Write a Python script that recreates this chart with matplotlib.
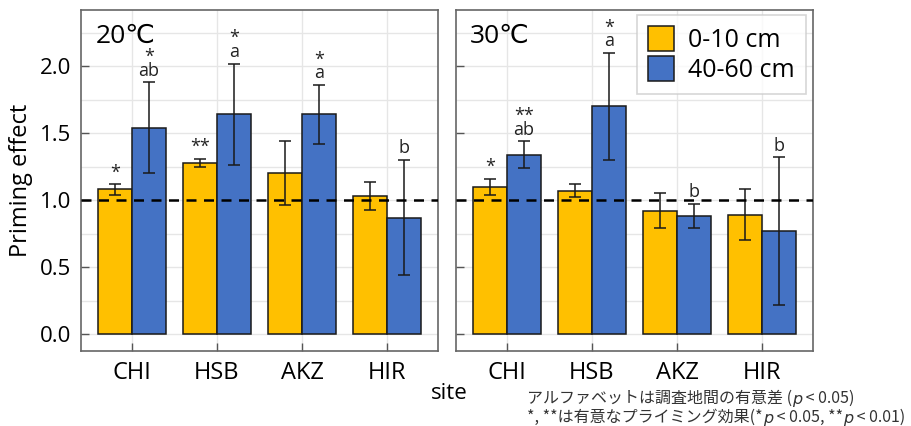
import matplotlib
matplotlib.use("Agg")
import matplotlib.pyplot as plt
import numpy as np

plt.rcParams['font.family'] = ['Open Sans', 'DejaVu Sans']

sites = ['CHI', 'HSB', 'AKZ', 'HIR']
depths = ['0-10 cm', '40-60 cm']
temps = ['20℃', '30℃']

# 20C
top_20 = [1.08, 1.28, 1.20, 1.03]
top_20_err = [0.04, 0.03, 0.24, 0.105]
deep_20 = [1.54, 1.64, 1.64, 0.87]
deep_20_err = [0.34, 0.38, 0.22, 0.43]
top_20_lab = ['*', '**', '', '']
deep_20_lab = ['*\nab', '*\na', '*\na', 'b']

# 30C
top_30 = [1.10, 1.07, 0.92, 0.89]
top_30_err = [0.06, 0.05, 0.13, 0.19]
deep_30 = [1.34, 1.70, 0.88, 0.77]
deep_30_err = [0.10, 0.40, 0.09, 0.55]
top_30_lab = ['*', '', '', '']
deep_30_lab = ['**\nab', '*\na', 'b', 'b']

yellow = '#FFC000'
blue = '#4472C4'

fig = plt.figure(figsize=(9.12, 4.26), dpi=100)
ax1 = fig.add_axes([0.0888, 0.176, 0.3914, 0.8005])
ax2 = fig.add_axes([0.500, 0.176, 0.3914, 0.8005])

panels = [
    (ax1, temps[0], top_20, top_20_err, deep_20, deep_20_err, top_20_lab, deep_20_lab),
    (ax2, temps[1], top_30, top_30_err, deep_30, deep_30_err, top_30_lab, deep_30_lab),
]

x = np.arange(len(sites))
w = 0.4
for ax, t, a, ae, b, be, al, bl in panels:
    ax.set_axisbelow(True)
    ax.bar(x - w / 2, a, w, color=yellow, edgecolor='#1a1a1a', lw=1.1, label=depths[0])
    ax.bar(x + w / 2, b, w, color=blue, edgecolor='#1a1a1a', lw=1.1, label=depths[1])
    ax.errorbar(x - w / 2, a, yerr=ae, fmt='none', ecolor='#1a1a1a', elinewidth=1.1, capsize=4, capthick=1.1)
    ax.errorbar(x + w / 2, b, yerr=be, fmt='none', ecolor='#1a1a1a', elinewidth=1.1, capsize=4, capthick=1.1)
    for i in range(len(sites)):
        if al[i]:
            ax.text(x[i] - w / 2, a[i] + ae[i] + 0.02, al[i], ha='center', va='bottom',
                    fontsize=13, linespacing=0.7, color='#222222')
        if bl[i]:
            ax.text(x[i] + w / 2, b[i] + be[i] + 0.02, bl[i], ha='center', va='bottom',
                    fontsize=13, linespacing=0.7, color='#222222')
    ax.axhline(1.0, color='black', lw=1.8, ls=(0, (4, 3)), zorder=5)
    ax.set_xlim(-0.6, 3.6)
    ax.set_ylim(-0.127, 2.42)
    ax.set_xticks(x)
    ax.set_xticklabels(sites, fontsize=17)
    ax.set_yticks([0, 0.5, 1.0, 1.5, 2.0])
    ax.set_yticks(np.arange(0.25, 2.3, 0.5), minor=True)
    ax.tick_params(direction='in', length=6, width=1, color='#555555', pad=7)
    ax.tick_params(which='minor', length=0)
    ax.grid(True, which='both', color='#e6e6e6', lw=1)
    for s in ax.spines.values():
        s.set_color('#666666')
        s.set_linewidth(1.2)
    ax.text(0.04, 0.96, t, transform=ax.transAxes, fontsize=19, va='top', ha='left')

ax1.set_yticklabels(['0.0', '0.5', '1.0', '1.5', '2.0'], fontsize=16)
ax2.set_yticklabels([])
ax1.set_ylabel('Priming effect', fontsize=17, labelpad=5)

leg = ax2.legend(loc='upper right', fontsize=18, frameon=True, fancybox=False,
                 edgecolor='#cccccc', handlelength=1.05, handleheight=1.15,
                 handletextpad=0.55, borderpad=0.45, labelspacing=0.12,
                 borderaxespad=0, bbox_to_anchor=(0.980, 0.985))
leg.get_frame().set_linewidth(1.2)

fig.text(0.493, 0.077, 'site', fontsize=16, ha='center', va='center')

# footnote, chained pieces so the italic p sits inline
jp = ['Noto Sans CJK JP', 'DejaVu Sans']
fs = 11.5
col = '#333333'

def chain(start, pieces):
    prev = start
    for txt, italic in pieces:
        if italic:
            fam, st = ['DejaVu Sans'], 'italic'
        else:
            fam, st = jp, 'normal'
        prev = ax1.annotate(txt, xy=(1, 0), xycoords=prev, va='bottom', ha='left',
                            fontsize=fs, color=col, family=fam, style=st,
                            annotation_clip=False)
    return prev

t1 = fig.text(0.578, 0.044, 'アルファベットは調査地間の有意差 (', fontsize=fs,
              color=col, family=jp, va='bottom', ha='left')
chain(t1, [('p', True), (' < 0.05)', False)])

t2 = fig.text(0.578, 0.0, '*, **は有意なプライミング効果(*', fontsize=fs,
              color=col, family=jp, va='bottom', ha='left')
chain(t2, [('p', True), (' < 0.05, **', False), ('p', True), (' < 0.01)', False)])

fig.savefig('out.png', dpi=100)
